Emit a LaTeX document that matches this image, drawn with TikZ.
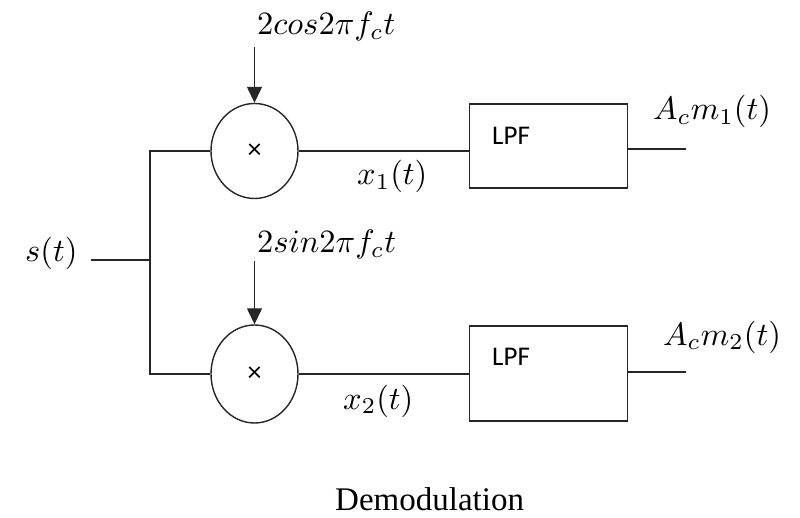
\documentclass[tikz,border=0pt]{standalone}
\usepackage{fontspec}
\newfontfamily\lpffont{Carlito}
\newfontfamily\capfont{Liberation Serif}
\usetikzlibrary{shapes.geometric,arrows.meta}
\newcommand{\sigmath}[1]{\scalebox{3.25}{$#1$}}
\begin{document}
\begin{tikzpicture}[x=1pt,y=-1pt,
  wire/.style={line width=1.4pt,draw=black!85},
  mixer/.style={ellipse,draw=black!85,line width=1.4pt,minimum width=87pt,minimum height=95pt,inner sep=0pt,font=\lpffont\fontsize{28}{30}\selectfont},
  lpfbox/.style={rectangle,draw=black!85,line width=1.4pt,minimum width=158pt,inner sep=0pt},
  lpftext/.style={anchor=base west,inner sep=0pt,font=\lpffont\fontsize{27}{30}\selectfont},
  sig/.style={anchor=base west,inner sep=0pt},
  feed/.style={wire,-{Triangle[length=16pt,width=15pt]}}
]
\useasboundingbox (0,0) rectangle (800,518);

% mixers
\node[mixer] (mix1) at (254.5,151) {×};
\node[mixer,minimum height=98pt] (mix2) at (254.5,374) {×};

% LPF boxes
\node[lpfbox,minimum height=84pt] (lpf1) at (548.5,146) {};
\node[lpfbox,minimum height=95pt] (lpf2) at (548.5,373.5) {};
\node[lpftext] (lpf1t) at (492,145) {LPF};
\node[lpftext] (lpf2t) at (492,365) {LPF};

% input
\node[sig] (st) at (25,262) {\sigmath{s(t)}};
\coordinate (sin) at (91,260);
\coordinate (split) at (150,260);
\draw[wire] (sin) -- (split);
\draw[wire] (split) |- (mix1.west);
\draw[wire] (split) |- (mix2.west);

% mixer to LPF
\draw[wire] (mix1.east) -- (mix1.east -| lpf1.west);
\draw[wire] (mix2.east) -- (mix2.east -| lpf2.west);

% outputs
\coordinate (out1) at (686,149);
\coordinate (out2) at (686,372);
\draw[wire] (out1 -| lpf1.east) -- (out1);
\draw[wire] (out2 -| lpf2.east) -- (out2);

% carriers
\coordinate (c1) at (254.5,47);
\coordinate (c2) at (254.5,261);
\draw[feed] (c1) -- (mix1.north);
\draw[feed] (c2) -- (mix2.north);
\node[sig] (cos) at (257,35) {\sigmath{2cos2\pi f_c t}};
\node[sig] (sinl) at (257,253) {\sigmath{2sin2\pi f_c t}};

% labels
\node[sig] (x1) at (357,185) {\sigmath{x_1(t)}};
\node[sig] (x2) at (343,409) {\sigmath{x_2(t)}};
\node[sig] (o1) at (653,120) {\sigmath{A_c m_1(t)}};
\node[sig] (o2) at (663,345) {\sigmath{A_c m_2(t)}};

\node[anchor=base west,inner sep=0pt,font=\capfont\fontsize{33}{38}\selectfont] (cap) at (335,510) {Demodulation};
\end{tikzpicture}
\end{document}
